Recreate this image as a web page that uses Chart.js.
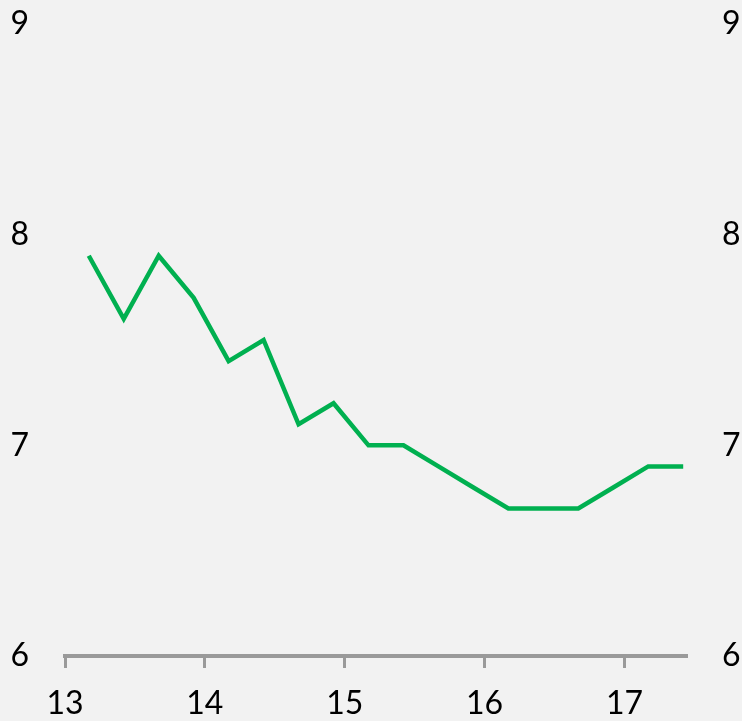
<!DOCTYPE html>
<html>
<head>
<meta charset="utf-8">
<script src="https://cdn.jsdelivr.net/npm/chart.js@4"></script>
<style>
  html, body { margin: 0; padding: 0; background: #f2f2f2; }
  #wrap { width: 742px; height: 721px; }
</style>
</head>
<body>
<div id="wrap"><canvas id="myChart" width="742" height="721"></canvas></div>
<script>
// quarterly points, x in years (13 = 2013)
const xValues = [13.17,13.42,13.67,13.92,14.17,14.42,14.67,14.92,15.17,15.42,15.67,15.92,16.17,16.42,16.67,16.92,17.17,17.42];
const yValues = [7.9,7.6,7.9,7.7,7.4,7.5,7.1,7.2,7.0,7.0,6.9,6.8,6.7,6.7,6.7,6.8,6.9,6.9];
const xTicks = [13,14,15,16,17];
const yTicks = [6,7,8,9];

const points = xValues.map((x, i) => ({x: x, y: yValues[i]}));
const labelFont = {family: 'Lato', size: 32};

// fixed box sizes so the plot area lands where the original has it
function fixBox(w, h) {
    return (scale) => {
        if (w !== null) scale.width = w;
        if (h !== null) scale.height = h;
        scale.paddingTop = 0;
        scale.paddingBottom = 0;
        scale.paddingLeft = 0;
        scale.paddingRight = 0;
    };
}

const ctx = document.getElementById('myChart');

new Chart(ctx, {
    type: 'line',
    data: {
        datasets: [{
            data: points,
            borderColor: '#00b050',
            borderWidth: 4.5,
            pointRadius: 0,
            tension: 0,
            fill: false
        }]
    },
    options: {
        responsive: false,
        animation: false,
        layout: { padding: {top: 24, bottom: 0, left: 0, right: 0} },
        plugins: {
            legend: { display: false },
            tooltip: { enabled: false }
        },
        scales: {
            x: {
                type: 'linear',
                min: 13,
                max: 17.44,
                afterBuildTicks: (scale) => {
                    scale.ticks = xTicks.map(v => ({value: v}));
                },
                afterFit: fixBox(null, 65),
                border: { display: true, color: '#9a9a9a', width: 4 },
                grid: { display: true, drawOnChartArea: false, drawTicks: true, tickLength: 12, color: '#9a9a9a', lineWidth: 3 },
                ticks: { color: '#000', font: labelFont, padding: 16, maxRotation: 0 }
            },
            y: {
                position: 'left',
                min: 6,
                max: 9,
                afterBuildTicks: (scale) => {
                    scale.ticks = yTicks.map(v => ({value: v}));
                },
                afterFit: fixBox(65, null),
                border: { display: false },
                grid: { display: false, drawTicks: false },
                ticks: { color: '#000', font: labelFont, padding: 36 }
            },
            y2: {
                position: 'right',
                display: true,
                min: 6,
                max: 9,
                afterBuildTicks: (scale) => {
                    scale.ticks = yTicks.map(v => ({value: v}));
                },
                afterFit: fixBox(56, null),
                border: { display: false },
                grid: { display: false, drawTicks: false },
                ticks: { color: '#000', font: labelFont, padding: 36 }
            }
        }
    }
});
</script>
</body>
</html>
